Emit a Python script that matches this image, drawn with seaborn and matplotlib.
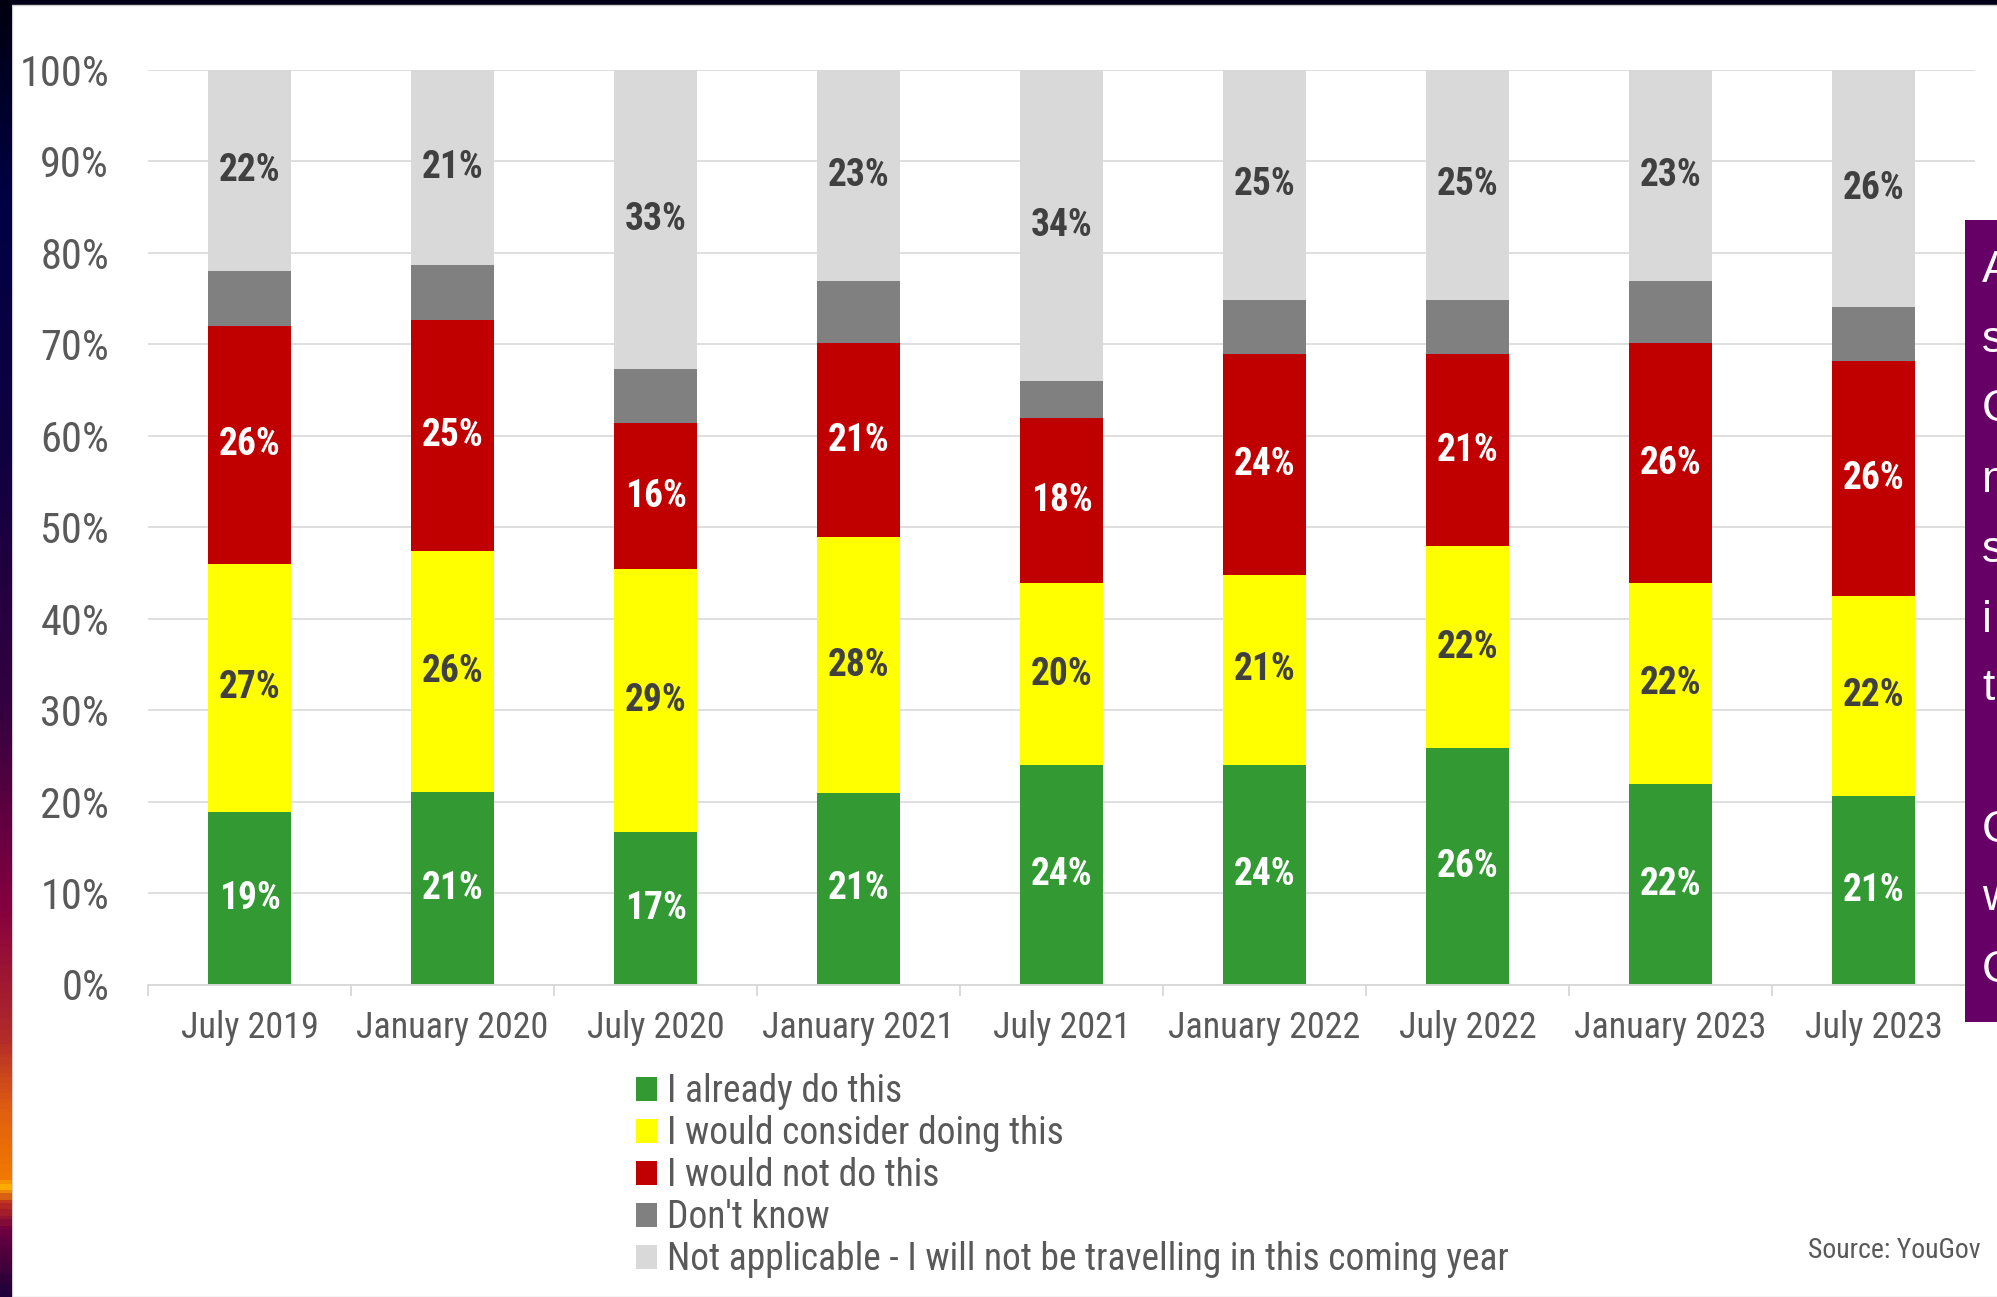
import matplotlib
matplotlib.use("Agg")
import matplotlib.pyplot as plt
from matplotlib import font_manager
from matplotlib.patches import Rectangle, Patch
from matplotlib.colors import LinearSegmentedColormap
import numpy as np
import seaborn as sns


# survey waves and answer shares (%)
waves = ["July 2019", "January 2020", "July 2020", "January 2021", "July 2021",
         "January 2022", "July 2022", "January 2023", "July 2023"]

already        = [18.9, 21.0, 16.7, 20.9, 24.0, 24.0, 25.9, 21.9, 20.6]
consider       = [27.1, 26.4, 28.7, 28.0, 19.9, 20.8, 22.0, 22.0, 21.9]
would_not      = [26.0, 25.3, 16.0, 21.2, 18.1, 24.1, 21.0, 26.2, 25.7]
dont_know      = [6.0, 6.0, 5.9, 6.8, 4.0, 6.0, 6.0, 6.8, 5.9]
not_applicable = [22.0, 21.3, 32.7, 23.1, 34.0, 25.1, 25.1, 23.1, 25.9]

series_names = ["I already do this", "I would consider doing this", "I would not do this",
                "Don't know", "Not applicable - I will not be travelling in this coming year"]
series_colors = ["#339933", "#FFFF00", "#C00000", "#808080", "#D9D9D9"]
label_colors = ["white", "#404040", "white", None, "#404040"]

y_ticks = [0, 10, 20, 30, 40, 50, 60, 70, 80, 90, 100]
side_letters = ["A", "s", "C", "n", "s", "i", "t", "", "C", "w", "C"]

# the slide uses a narrow sans; take the first one that is installed
available = {f.name for f in font_manager.fontManager.ttflist}
narrow = next((n for n in ["Liberation Sans Narrow", "Arial Narrow", "Roboto Condensed",
                           "Archivo Narrow", "Asap Condensed"] if n in available),
              "Liberation Sans")

sns.set_style("white")
plt.rcParams['font.family'] = [narrow, 'Liberation Sans', 'DejaVu Sans']

W, H = 1997, 1297
fig = plt.figure(figsize=(W / 100, H / 100), dpi=100)
fig.patch.set_facecolor("#00001a")

# slide background: gradient strip on the left, white panel
strip = fig.add_axes([0, 0, 12 / W, 1])
cmap = LinearSegmentedColormap.from_list("edge", [
    (0.0, "#000010"), (0.15, "#000045"), (0.35, "#10003f"), (0.55, "#35003f"),
    (0.70, "#85003f"), (0.80, "#b02a2a"), (0.86, "#e06010"), (0.91, "#f07a00"),
    (0.918, "#ffb000"), (0.93, "#c03020"), (0.95, "#700040"), (1.0, "#200038")])
strip.imshow(np.linspace(0, 1, 400).reshape(-1, 1), aspect="auto", cmap=cmap,
             extent=(0, 1, 0, 1))
strip.set_axis_off()

fig.add_artist(Rectangle((12 / W, 0), 1, 1 - 5 / H, transform=fig.transFigure,
                         facecolor="white", edgecolor="#d0d0d0", linewidth=1, zorder=0))

ax = fig.add_axes([148 / W, 1 - 984.5 / H, (1975 - 148) / W, (984.5 - 70) / H])
ax.set_facecolor("none")

layers = [already, consider, would_not, dont_know, not_applicable]
tops = np.cumsum(np.array(layers), axis=0)
bottoms = tops - np.array(layers)

# overlapping cumulative bars, tallest first
for i in range(len(layers) - 1, -1, -1):
    sns.barplot(x=waves, y=tops[i], color=series_colors[i], width=0.41, saturation=1,
                linewidth=0, errorbar=None, ax=ax)

for i, vals in enumerate(layers):
    if label_colors[i] is None:
        continue
    for j, v in enumerate(vals):
        ax.text(j, bottoms[i][j] + v / 2, f"{round(v)}%", ha="center", va="center",
                fontsize=27, fontweight="bold", color=label_colors[i])

ax.set_xlim(-0.5, len(waves) - 0.5)
ax.set_ylim(0, 100)
ax.set_yticks(y_ticks)
ax.set_yticklabels([f"{t}%" for t in y_ticks])
ax.yaxis.grid(True, color="#d9d9d9", linewidth=1.2)
ax.set_axisbelow(True)
for s in ["left", "right", "top"]:
    ax.spines[s].set_visible(False)
ax.spines["bottom"].set_color("#d9d9d9")
ax.spines["bottom"].set_linewidth(1.4)

ax.set_xticks(np.arange(-0.5, len(waves), 1), minor=True)
ax.tick_params(axis="x", which="minor", bottom=True, length=8, width=1.4, color="#d9d9d9")
ax.tick_params(axis="x", which="major", length=0, pad=18, labelsize=26, labelcolor="#595959")
ax.tick_params(axis="y", length=0, pad=28, labelsize=30.5, labelcolor="#595959")
ax.set_xlabel("")
ax.set_ylabel("")

handles = [Patch(facecolor=c, edgecolor="none") for c in series_colors]
fig.legend(handles, series_names, loc="upper left", bbox_to_anchor=(636 / W, 1 - 1073 / H),
           frameon=False, fontsize=27, labelcolor="#595959", handlelength=0.56,
           handleheight=0.61, handletextpad=0.26, labelspacing=0.135, borderpad=0,
           borderaxespad=0)

fig.text(1981 / W, 1 - 1251 / H, "Source: YouGov", ha="right", va="center",
         fontsize=20, color="#595959")

# purple side box (cut off by the slide edge)
fig.add_artist(Rectangle((1965 / W, 1 - 1022 / H), 1, (1022 - 220) / H,
                         transform=fig.transFigure, facecolor="#660066",
                         edgecolor="none", zorder=5))
line_y = [270, 341, 410, 480, 550, 620, 689, 760, 830, 899, 970]
for letter, yy in zip(side_letters, line_y):
    if letter:
        fig.text(1982 / W, 1 - yy / H, letter, ha="left", va="center", fontsize=32,
                 color="white", family=["Liberation Sans", "DejaVu Sans"], zorder=6)

fig.savefig("out.png", dpi=100, facecolor=fig.get_facecolor())
